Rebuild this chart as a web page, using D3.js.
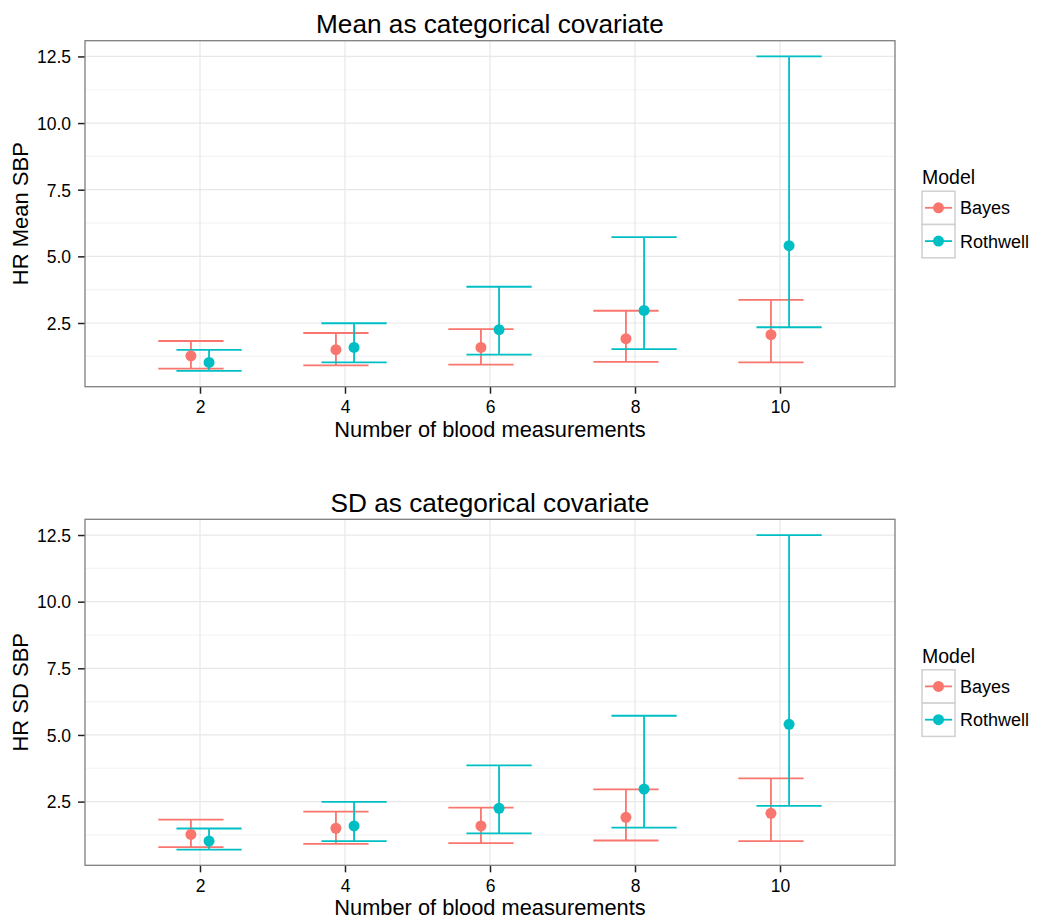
<!DOCTYPE html>
<html>
<head>
<meta charset="utf-8">
<script src="https://cdn.jsdelivr.net/npm/d3@7"></script>
<style>
  body { margin: 0; background: #fff; }
  text { font-family: "Liberation Sans", Arial, sans-serif; fill: #000; }
</style>
</head>
<body>
<div id="chart"></div>
<script>
// number of blood measurements
var groups = [2, 4, 6, 8, 10];
var models = ["Bayes", "Rothwell"];

// hazard ratio estimates + intervals
var bayesEst = [1.27, 1.50, 1.585, 1.91, 2.06];
var bayesLo  = [0.79, 0.91, 0.94, 1.04, 1.02];
var bayesHi  = [1.825, 2.125, 2.27, 2.96, 3.37];

var rothEst = [1.02, 1.585, 2.25, 2.97, 5.40];
var rothLo  = [0.70, 1.02, 1.31, 1.52, 2.34];
var rothHi  = [1.49, 2.49, 3.86, 5.72, 12.5];

var yTicks = [2.5, 5.0, 7.5, 10.0, 12.5];
var yMinor = [1.25, 3.75, 6.25, 8.75, 11.25];

var panels = [
  {title: "Mean as categorical covariate", ylab: "HR Mean SBP", top: 40.7},
  {title: "SD as categorical covariate", ylab: "HR SD SBP", top: 519.3}
];

var colors = d3.scaleOrdinal().domain(models).range(["#F8766D", "#00BFC4"]);

var svg = d3.select("#chart").append("svg")
  .attr("width", 1038)
  .attr("height", 924);

var rows = [];
groups.forEach(function(g, i) {
  rows.push({x: g, model: "Bayes", est: bayesEst[i], lo: bayesLo[i], hi: bayesHi[i]});
  rows.push({x: g, model: "Rothwell", est: rothEst[i], lo: rothLo[i], hi: rothHi[i]});
});

var left = 85, right = 895, ph = 346;
var dodge = 0.125, capHalf = 0.45;

var x = d3.scaleLinear()
  .domain([2 - 1.586, 10 + 1.586])
  .range([left, right]);

function drawPanel(p) {
  var g = svg.append("g").attr("transform", "translate(0," + p.top + ")");

  var y = d3.scaleLinear()
    .domain([0.11, 13.09])
    .range([ph, 0]);

  // grid
  g.selectAll(".minor").data(yMinor).enter().append("line")
    .attr("x1", left).attr("x2", right)
    .attr("y1", d => y(d)).attr("y2", d => y(d))
    .attr("stroke", "#f4f4f4").attr("stroke-width", 1.2);
  g.selectAll(".majory").data(yTicks).enter().append("line")
    .attr("x1", left).attr("x2", right)
    .attr("y1", d => y(d)).attr("y2", d => y(d))
    .attr("stroke", "#e8e8e8").attr("stroke-width", 1.2);
  g.selectAll(".majorx").data(groups).enter().append("line")
    .attr("x1", d => x(d)).attr("x2", d => x(d))
    .attr("y1", 0).attr("y2", ph)
    .attr("stroke", "#e8e8e8").attr("stroke-width", 1.2);

  // axes
  var ax = g.append("g")
    .attr("transform", "translate(0," + ph + ")")
    .call(d3.axisBottom(x).tickValues(groups).tickSize(7).tickPadding(7));
  var ay = g.append("g")
    .attr("transform", "translate(" + left + ",0)")
    .call(d3.axisLeft(y).tickValues(yTicks).tickFormat(d3.format(".1f")).tickSize(7).tickPadding(7));
  [ax, ay].forEach(function(a) {
    a.select(".domain").remove();
    a.selectAll(".tick line").attr("stroke", "#222").attr("stroke-width", 1.5);
    a.selectAll(".tick text").attr("font-size", 17.5).attr("fill", "#111")
      .style("font-family", "'Liberation Sans', Arial, sans-serif");
  });
  ay.selectAll(".tick text").attr("dy", "0.36em");

  // error bars
  var bars = g.selectAll(".eb").data(rows).enter().append("g")
    .attr("stroke", d => colors(d.model))
    .attr("stroke-width", 1.8);
  function cx(d) { return x(d.x + (d.model == "Bayes" ? -dodge : dodge)); }
  bars.append("line")
    .attr("x1", cx).attr("x2", cx)
    .attr("y1", d => y(d.lo)).attr("y2", d => y(d.hi));
  bars.append("line")
    .attr("x1", d => cx(d) - (x(capHalf) - x(0))).attr("x2", d => cx(d) + (x(capHalf) - x(0)))
    .attr("y1", d => y(d.hi)).attr("y2", d => y(d.hi));
  bars.append("line")
    .attr("x1", d => cx(d) - (x(capHalf) - x(0))).attr("x2", d => cx(d) + (x(capHalf) - x(0)))
    .attr("y1", d => y(d.lo)).attr("y2", d => y(d.lo));

  g.selectAll(".pt").data(rows).enter().append("circle")
    .attr("cx", cx).attr("cy", d => y(d.est))
    .attr("r", 5.5)
    .attr("fill", d => colors(d.model));

  // panel border
  g.append("rect")
    .attr("x", left).attr("y", 0)
    .attr("width", right - left).attr("height", ph)
    .attr("fill", "none").attr("stroke", "#7f7f7f").attr("stroke-width", 1.3);

  // titles
  g.append("text")
    .attr("x", (left + right) / 2).attr("y", -7.5)
    .attr("text-anchor", "middle").attr("font-size", 26.2)
    .text(p.title);
  g.append("text")
    .attr("x", (left + right) / 2).attr("y", ph + 50)
    .attr("text-anchor", "middle").attr("font-size", 21.8)
    .text("Number of blood measurements");
  g.append("text")
    .attr("transform", "translate(28," + (ph / 2) + ") rotate(-90)")
    .attr("text-anchor", "middle").attr("font-size", 22)
    .text(p.ylab);

  // legend
  var lg = g.append("g").attr("transform", "translate(922,0)");
  lg.append("text").attr("x", 0).attr("y", 143.5).attr("font-size", 19.5).text("Model");
  var items = lg.selectAll(".key").data(models).enter().append("g")
    .attr("transform", (d, i) => "translate(0," + (150.5 + i * 33.3) + ")");
  items.append("rect")
    .attr("width", 33).attr("height", 33.3)
    .attr("fill", "#fff").attr("stroke", "#d0d0d0").attr("stroke-width", 1.5);
  items.append("line")
    .attr("x1", 3).attr("x2", 30).attr("y1", 16.6).attr("y2", 16.6)
    .attr("stroke", d => colors(d)).attr("stroke-width", 1.8);
  items.append("circle")
    .attr("cx", 16.5).attr("cy", 16.6).attr("r", 5.5)
    .attr("fill", d => colors(d));
  items.append("text")
    .attr("x", 38).attr("y", 23).attr("font-size", 18)
    .text(d => d);
}

panels.forEach(drawPanel);
</script>
</body>
</html>
